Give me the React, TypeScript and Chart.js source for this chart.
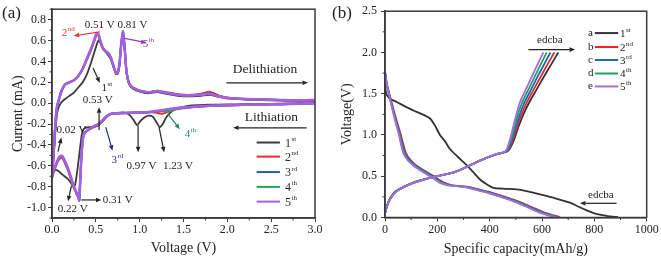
import React, { useEffect, useRef } from 'react';
import { Chart, registerables } from 'chart.js';
Chart.register(...registerables);

const FONT = "'Liberation Serif', 'Times New Roman', serif";

// ---------------- Panel (a): CV curves ----------------
const cvVoltageCathodic = [3.0, 2.8, 2.6, 2.4, 2.2, 2.0, 1.8, 1.6, 1.5, 1.4, 1.35, 1.3, 1.27, 1.23, 1.19, 1.15, 1.1, 1.05, 1.01, 0.97, 0.93, 0.88, 0.83, 0.78, 0.73, 0.68, 0.63, 0.58, 0.53, 0.48, 0.43, 0.39, 0.36, 0.34, 0.33, 0.32, 0.31, 0.30, 0.28, 0.26, 0.24, 0.22, 0.2, 0.18, 0.15, 0.12, 0.1, 0.08, 0.05, 0.03, 0.01, 0.0];
const cvVoltageAnodic = [0.01, 0.02, 0.03, 0.04, 0.05, 0.06, 0.08, 0.1, 0.12, 0.15, 0.2, 0.25, 0.3, 0.35, 0.4, 0.45, 0.48, 0.51, 0.53, 0.55, 0.58, 0.61, 0.64, 0.67, 0.7, 0.73, 0.75, 0.77, 0.79, 0.81, 0.83, 0.85, 0.88, 0.92, 1.0, 1.1, 1.2, 1.3, 1.4, 1.5, 1.6, 1.7, 1.8, 1.9, 2.0, 2.2, 2.4, 2.6, 2.8, 3.0];

const cycle1Cathodic = [0.01, 0.0, -0.005, -0.008, -0.01, -0.012, -0.015, -0.022, -0.035, -0.06, -0.09, -0.14, -0.19, -0.23, -0.18, -0.13, -0.12, -0.14, -0.17, -0.21, -0.16, -0.11, -0.09, -0.09, -0.095, -0.1, -0.12, -0.17, -0.21, -0.225, -0.23, -0.235, -0.25, -0.3, -0.36, -0.43, -0.5, -0.57, -0.7, -0.79, -0.8, -0.77, -0.745, -0.725, -0.705, -0.685, -0.67, -0.655, -0.64, -0.645, -0.665, -0.68];
const cycle1Anodic = [-0.6, -0.5, -0.38, -0.26, -0.16, -0.09, -0.03, 0.0, 0.02, 0.04, 0.07, 0.1, 0.15, 0.2, 0.28, 0.4, 0.48, 0.56, 0.6, 0.58, 0.52, 0.49, 0.46, 0.42, 0.35, 0.28, 0.28, 0.37, 0.55, 0.65, 0.5, 0.29, 0.18, 0.14, 0.11, 0.095, 0.105, 0.09, 0.075, 0.065, 0.065, 0.07, 0.08, 0.06, 0.045, 0.035, 0.03, 0.025, 0.02, 0.025];

const cycle2Cathodic = [0.0, -0.005, -0.01, -0.013, -0.016, -0.022, -0.028, -0.04, -0.048, -0.06, -0.075, -0.09, -0.1, -0.1, -0.092, -0.086, -0.088, -0.09, -0.092, -0.092, -0.092, -0.094, -0.096, -0.097, -0.099, -0.102, -0.125, -0.17, -0.21, -0.23, -0.25, -0.275, -0.31, -0.46, -0.6, -0.77, -0.92, -0.9, -0.87, -0.83, -0.79, -0.74, -0.69, -0.64, -0.58, -0.53, -0.525, -0.54, -0.59, -0.64, -0.69, -0.72];
const cycle2Anodic = [-0.6, -0.47, -0.32, -0.19, -0.09, -0.03, 0.035, 0.09, 0.135, 0.175, 0.2, 0.22, 0.26, 0.33, 0.42, 0.52, 0.59, 0.655, 0.65, 0.59, 0.525, 0.495, 0.475, 0.435, 0.355, 0.285, 0.285, 0.375, 0.56, 0.67, 0.51, 0.3, 0.19, 0.15, 0.12, 0.105, 0.12, 0.105, 0.09, 0.08, 0.08, 0.09, 0.11, 0.075, 0.055, 0.04, 0.035, 0.03, 0.025, 0.03];

const cycle3Cathodic = [0.0, -0.005, -0.01, -0.012, -0.015, -0.021, -0.026, -0.036, -0.042, -0.052, -0.058, -0.065, -0.07, -0.075, -0.078, -0.082, -0.086, -0.089, -0.09, -0.09, -0.091, -0.093, -0.095, -0.096, -0.098, -0.101, -0.122, -0.165, -0.205, -0.225, -0.248, -0.272, -0.305, -0.45, -0.6, -0.78, -0.93, -0.9, -0.86, -0.82, -0.78, -0.725, -0.675, -0.625, -0.565, -0.515, -0.51, -0.525, -0.58, -0.625, -0.675, -0.71];
const cycle3Anodic = [-0.59, -0.46, -0.31, -0.185, -0.085, -0.025, 0.038, 0.095, 0.138, 0.178, 0.2, 0.22, 0.26, 0.33, 0.43, 0.53, 0.6, 0.665, 0.655, 0.6, 0.53, 0.5, 0.48, 0.44, 0.36, 0.29, 0.29, 0.38, 0.57, 0.68, 0.52, 0.3, 0.19, 0.15, 0.12, 0.105, 0.115, 0.1, 0.085, 0.075, 0.075, 0.082, 0.095, 0.068, 0.05, 0.04, 0.035, 0.03, 0.025, 0.03];

const cycle4Cathodic = [0.0, -0.005, -0.01, -0.012, -0.015, -0.02, -0.026, -0.036, -0.045, -0.06, -0.075, -0.08, -0.078, -0.078, -0.08, -0.082, -0.086, -0.089, -0.09, -0.09, -0.09, -0.092, -0.094, -0.095, -0.097, -0.1, -0.12, -0.16, -0.2, -0.22, -0.245, -0.27, -0.3, -0.45, -0.6, -0.78, -0.935, -0.9, -0.86, -0.82, -0.78, -0.72, -0.67, -0.62, -0.56, -0.51, -0.505, -0.52, -0.575, -0.62, -0.67, -0.70];
const cycle4Anodic = [-0.58, -0.45, -0.3, -0.18, -0.08, -0.02, 0.04, 0.1, 0.14, 0.18, 0.2, 0.22, 0.26, 0.33, 0.43, 0.53, 0.6, 0.67, 0.66, 0.6, 0.53, 0.5, 0.48, 0.44, 0.36, 0.29, 0.29, 0.38, 0.57, 0.69, 0.52, 0.3, 0.19, 0.15, 0.12, 0.105, 0.115, 0.1, 0.085, 0.075, 0.075, 0.08, 0.09, 0.065, 0.05, 0.04, 0.035, 0.03, 0.025, 0.03];

const cycle5Cathodic = [0.0, -0.005, -0.01, -0.012, -0.015, -0.02, -0.025, -0.035, -0.04, -0.05, -0.055, -0.06, -0.065, -0.07, -0.075, -0.08, -0.085, -0.088, -0.09, -0.09, -0.09, -0.092, -0.094, -0.095, -0.097, -0.1, -0.12, -0.16, -0.2, -0.22, -0.245, -0.27, -0.3, -0.45, -0.6, -0.78, -0.93, -0.9, -0.86, -0.82, -0.78, -0.72, -0.67, -0.62, -0.56, -0.51, -0.505, -0.52, -0.575, -0.62, -0.67, -0.70];
const cycle5Anodic = [-0.58, -0.45, -0.3, -0.18, -0.08, -0.02, 0.04, 0.1, 0.14, 0.18, 0.2, 0.22, 0.26, 0.33, 0.43, 0.53, 0.6, 0.67, 0.66, 0.6, 0.53, 0.5, 0.48, 0.44, 0.36, 0.29, 0.29, 0.38, 0.57, 0.68, 0.52, 0.3, 0.19, 0.15, 0.12, 0.105, 0.115, 0.1, 0.085, 0.075, 0.075, 0.08, 0.09, 0.065, 0.05, 0.04, 0.035, 0.03, 0.025, 0.03];

const cycleBase = ['1', '2', '3', '4', '5'];
const cycleSup = ['st', 'nd', 'rd', 'th', 'th'];
const cvColors = ['#3a3a3a', '#f42a2a', '#1f5fae', '#1ea45c', '#a65fe2'];
const cvWidths = [1.8, 2, 2, 2, 2.6];

const voltageTicksA = [0, 0.5, 1.0, 1.5, 2.0, 2.5, 3.0];
const currentTicks = [-1.0, -0.8, -0.6, -0.4, -0.2, 0.0, 0.2, 0.4, 0.6, 0.8];

// ---------------- Panel (b): charge / discharge ----------------
const dis1Cap = [0, 5, 15, 30, 45, 80, 121, 150, 172, 190, 210, 230, 248, 280, 312, 340, 363, 390, 414, 450, 503, 540, 580, 643, 707, 740, 771, 800, 834, 860, 891];
const dis1Volt = [1.6, 1.5, 1.45, 1.42, 1.40, 1.34, 1.28, 1.24, 1.2, 1.12, 1.0, 0.92, 0.83, 0.73, 0.635, 0.54, 0.46, 0.4, 0.36, 0.35, 0.34, 0.32, 0.29, 0.24, 0.18, 0.13, 0.086, 0.05, 0.027, 0.012, 0.005];
const disVolt = [1.77, 1.62, 1.52, 1.34, 1.18, 1.03, 0.9, 0.78, 0.7, 0.63, 0.56, 0.5, 0.45, 0.42, 0.39, 0.38, 0.37, 0.34, 0.29, 0.24, 0.18, 0.115, 0.06, 0.03, 0.01, 0.0];
const dis2Cap = [0, 7, 15, 30, 44, 58, 69, 80, 97, 120, 155, 187, 210, 228, 258, 288, 318, 358, 419, 468, 521, 569, 610, 640, 662, 669];
const dis3Cap = [0, 7, 14, 28, 42, 55, 66, 76, 93, 116, 150, 182, 205, 222, 252, 282, 312, 352, 413, 462, 515, 562, 603, 633, 656, 665];
const dis4Cap = [0, 6, 13, 27, 40, 53, 63, 73, 89, 112, 145, 177, 200, 216, 246, 276, 306, 346, 407, 456, 509, 556, 597, 627, 651, 661];
const dis5Cap = [0, 6, 13, 26, 38, 51, 60, 70, 85, 108, 140, 172, 195, 210, 240, 270, 300, 340, 401, 450, 503, 550, 590, 620, 645, 656];

const chgVolt = [0.05, 0.12, 0.22, 0.32, 0.42, 0.48, 0.56, 0.69, 0.77, 0.8, 0.85, 0.95, 1.1, 1.25, 1.4, 1.55, 1.7, 1.85, 2.0];
const chg1Cap = [0, 5, 17, 42, 105, 170, 272, 362, 430, 467, 480, 494, 510, 529, 552, 579, 606, 634, 662];
const chg2Cap = [0, 6, 19, 45, 108, 172, 274, 363, 430, 465, 477, 490, 505, 522, 543, 568, 594, 620, 647];
const chg3Cap = [0, 6, 19, 45, 108, 172, 274, 363, 429, 463, 474, 486, 500, 515, 534, 558, 582, 607, 632];
const chg4Cap = [0, 6, 19, 45, 108, 172, 274, 363, 428, 461, 471, 482, 495, 508, 525, 548, 571, 594, 618];
const chg5Cap = [0, 6, 19, 45, 108, 172, 274, 363, 427, 459, 468, 478, 490, 502, 516, 538, 560, 582, 605];

const curveLetters = ['a', 'b', 'c', 'd', 'e'];
const gcdColors = ['#333333', '#ee2424', '#1a66c4', '#22a35c', '#a46ce0'];

const capacityTicks = [0, 200, 400, 600, 800, 1000];
const voltageTicksB = [0, 0.5, 1.0, 1.5, 2.0, 2.5];

// ---------------- helpers ----------------
function zip(xs: number[], ys: number[]) {
  return xs.map((x, i) => ({ x, y: ys[i] }));
}

function fmt1(v: number) {
  const n = Math.abs(v) < 1e-9 ? 0 : v;
  return n.toFixed(1);
}

function drawArrow(ctx: CanvasRenderingContext2D, x1: number, y1: number, x2: number, y2: number, color: string, lw = 1.2, head = 5.5) {
  ctx.save();
  ctx.strokeStyle = color;
  ctx.fillStyle = color;
  ctx.lineWidth = lw;
  const ang = Math.atan2(y2 - y1, x2 - x1);
  const bx = x2 - head * Math.cos(ang);
  const by = y2 - head * Math.sin(ang);
  ctx.beginPath();
  ctx.moveTo(x1, y1);
  ctx.lineTo(bx, by);
  ctx.stroke();
  const hw = head * 0.42;
  ctx.beginPath();
  ctx.moveTo(x2, y2);
  ctx.lineTo(bx + hw * Math.sin(ang), by - hw * Math.cos(ang));
  ctx.lineTo(bx - hw * Math.sin(ang), by + hw * Math.cos(ang));
  ctx.closePath();
  ctx.fill();
  ctx.restore();
}

function drawLabel(ctx: CanvasRenderingContext2D, x: number, y: number, text: string, sup: string | undefined, color: string, size: number) {
  ctx.save();
  ctx.fillStyle = color;
  ctx.textBaseline = 'middle';
  ctx.textAlign = 'left';
  ctx.font = `${size}px ${FONT}`;
  ctx.fillText(text, x, y);
  if (sup) {
    const w = ctx.measureText(text).width;
    ctx.font = `${Math.round(size * 0.62)}px ${FONT}`;
    ctx.fillText(sup, x + w + 0.5, y - size * 0.36);
  }
  ctx.restore();
}

type Txt = { text: string; sup?: string; x: number; y: number; color: string; size: number };
type Arr = { x1: number; y1: number; x2: number; y2: number; color: string };

const textsA: Txt[] = [
  { text: '0.51 V 0.81 V', x: 0.373, y: 0.752, color: '#222', size: 11 },
  { text: '2', sup: 'nd', x: 0.11, y: 0.67, color: '#f03030', size: 11 },
  { text: '5', sup: 'th', x: 1.035, y: 0.565, color: '#8c3cb0', size: 11 },
  { text: '1', sup: 'st', x: 0.565, y: 0.14, color: '#222', size: 11 },
  { text: '0.53 V', x: 0.35, y: 0.025, color: '#222', size: 11 },
  { text: 'Delithiation', x: 2.063, y: 0.32, color: '#222', size: 13.5 },
  { text: 'Lithiation', x: 2.2, y: -0.135, color: '#222', size: 13.5 },
  { text: '0.02 V', x: 0.05, y: -0.26, color: '#222', size: 11 },
  { text: '0.22 V', x: 0.065, y: -1.015, color: '#222', size: 11 },
  { text: '0.31 V', x: 0.579, y: -0.927, color: '#222', size: 11 },
  { text: '3', sup: 'rd', x: 0.678, y: -0.55, color: '#2a2a8c', size: 11 },
  { text: '0.97 V', x: 0.849, y: -0.6, color: '#222', size: 11 },
  { text: '1.23 V', x: 1.267, y: -0.6, color: '#222', size: 11 },
  { text: '4', sup: 'th', x: 1.515, y: -0.3, color: '#1a8a70', size: 11 },
];

const arrowsA: Arr[] = [
  { x1: 0.545, y1: 0.683, x2: 0.248, y2: 0.645, color: '#f03030' },
  { x1: 0.83, y1: 0.62, x2: 1.078, y2: 0.579, color: '#8c3cb0' },
  { x1: 0.468, y1: 0.337, x2: 0.545, y2: 0.195, color: '#222' },
  { x1: 0.537, y1: -0.258, x2: 0.537, y2: -0.04, color: '#222' },
  { x1: 1.99, y1: 0.195, x2: 2.92, y2: 0.195, color: '#222' },
  { x1: 2.904, y1: -0.236, x2: 2.066, y2: -0.236, color: '#222' },
  { x1: 0.068, y1: -0.465, x2: 0.107, y2: -0.33, color: '#222' },
  { x1: 0.221, y1: -0.795, x2: 0.183, y2: -0.94, color: '#222' },
  { x1: 0.336, y1: -0.927, x2: 0.564, y2: -0.927, color: '#222' },
  { x1: 0.613, y1: -0.229, x2: 0.69, y2: -0.455, color: '#2a2a8c' },
  { x1: 0.982, y1: -0.213, x2: 0.982, y2: -0.47, color: '#222' },
  { x1: 1.221, y1: -0.229, x2: 1.279, y2: -0.47, color: '#222' },
  { x1: 1.324, y1: -0.104, x2: 1.458, y2: -0.25, color: '#1a8a70' },
];

const legendRowsA = [-0.377, -0.512, -0.66, -0.802, -0.943];
const legendRowsB = [2.235, 2.066, 1.909, 1.745, 1.588];

const textsB: Txt[] = [
  { text: 'edcba', x: 581, y: 2.145, color: '#222', size: 11 },
  { text: 'edcba', x: 776, y: 0.27, color: '#222', size: 11 },
];
const arrowsB: Arr[] = [
  { x1: 548, y1: 2.035, x2: 726, y2: 2.035, color: '#222' },
  { x1: 885, y1: 0.172, x2: 745, y2: 0.172, color: '#222' },
];

function framePlugin(panelLabel: string, extra: (chart: any) => void) {
  return {
    id: 'frameAndNotes',
    afterDraw(chart: any) {
      const ctx: CanvasRenderingContext2D = chart.ctx;
      const ca = chart.chartArea;
      const xs = chart.scales.x;
      const ys = chart.scales.y;
      ctx.save();
      ctx.strokeStyle = '#3a3a3a';
      ctx.lineWidth = 1.5;
      ctx.strokeRect(ca.left, ca.top, ca.right - ca.left, ca.bottom - ca.top);
      // minor ticks
      ctx.lineWidth = 1;
      const xt = xs.ticks.map((t: any) => t.value);
      const xStep = xt[1] - xt[0];
      for (let v = xt[0] - xStep / 2; v <= xs.max + 1e-9; v += xStep) {
        if (v < xs.min - 1e-9) continue;
        const p = xs.getPixelForValue(v);
        ctx.beginPath();
        ctx.moveTo(p, ca.bottom);
        ctx.lineTo(p, ca.bottom + 2.5);
        ctx.stroke();
      }
      const yt = ys.ticks.map((t: any) => t.value);
      const yStep = yt[1] - yt[0];
      for (let v = yt[0] - yStep / 2; v <= ys.max + 1e-9; v += yStep) {
        if (v < ys.min - 1e-9) continue;
        const p = ys.getPixelForValue(v);
        ctx.beginPath();
        ctx.moveTo(ca.left, p);
        ctx.lineTo(ca.left - 2.5, p);
        ctx.stroke();
      }
      ctx.restore();
      drawLabel(ctx, 2, 13.5, panelLabel, undefined, '#222', 17);
      extra(chart);
    },
  };
}

function axisCommon() {
  return {
    grid: { display: true, drawOnChartArea: false, drawTicks: true, tickLength: 4, color: '#3a3a3a', lineWidth: 1 },
    border: { display: true, color: '#3a3a3a', width: 1.5 },
  };
}

export default function App() {
  const refA = useRef<HTMLCanvasElement>(null);
  const refB = useRef<HTMLCanvasElement>(null);

  useEffect(() => {
    const cathodic = [cycle1Cathodic, cycle2Cathodic, cycle3Cathodic, cycle4Cathodic, cycle5Cathodic];
    const anodic = [cycle1Anodic, cycle2Anodic, cycle3Anodic, cycle4Anodic, cycle5Anodic];
    const cvDatasets = cathodic.map((c, i) => ({
      label: cycleBase[i] + cycleSup[i],
      data: zip(cvVoltageCathodic, c).concat(zip(cvVoltageAnodic, anodic[i])),
      borderColor: cvColors[i],
      borderWidth: cvWidths[i],
      pointRadius: 0,
      tension: 0.2,
      fill: false,
      order: 10 - i,
    }));

    const chartA = new Chart(refA.current as HTMLCanvasElement, {
      type: 'line',
      data: { datasets: cvDatasets as any },
      options: {
        responsive: false,
        animation: false,
        layout: { padding: { left: 0, right: 15, top: 5, bottom: 0 } },
        plugins: { legend: { display: false }, tooltip: { enabled: false } },
        scales: {
          x: {
            type: 'linear',
            min: 0,
            max: 3,
            afterBuildTicks: (s: any) => { s.ticks = voltageTicksA.map((v) => ({ value: v })); },
            afterFit: (s: any) => { s.height = 42; },
            ...axisCommon(),
            ticks: { autoSkip: false, maxRotation: 0, padding: 1, color: '#222', font: { family: FONT, size: 12 }, callback: (v: any) => fmt1(Number(v)) },
            title: { display: true, text: 'Voltage (V)', color: '#222', font: { family: FONT, size: 14 }, padding: { top: 0, bottom: 3 } },
          },
          y: {
            type: 'linear',
            min: -1.1,
            max: 0.9,
            afterBuildTicks: (s: any) => { s.ticks = currentTicks.map((v) => ({ value: v })); },
            afterFit: (s: any) => { s.width = 52; },
            ...axisCommon(),
            ticks: { autoSkip: false, padding: 2, color: '#222', font: { family: FONT, size: 12 }, callback: (v: any) => fmt1(Number(v)) },
            title: { display: true, text: 'Current (mA)', color: '#222', font: { family: FONT, size: 14 }, padding: { top: 10, bottom: 0 } },
          },
        },
      } as any,
      plugins: [
        framePlugin('(a)', (chart: any) => {
          const ctx: CanvasRenderingContext2D = chart.ctx;
          const xs = chart.scales.x;
          const ys = chart.scales.y;
          arrowsA.forEach((a) => drawArrow(ctx, xs.getPixelForValue(a.x1), ys.getPixelForValue(a.y1), xs.getPixelForValue(a.x2), ys.getPixelForValue(a.y2), a.color));
          textsA.forEach((t) => drawLabel(ctx, xs.getPixelForValue(t.x), ys.getPixelForValue(t.y), t.text, t.sup, t.color, t.size));
          legendRowsA.forEach((ry, i) => {
            const py = ys.getPixelForValue(ry);
            ctx.save();
            ctx.strokeStyle = cvColors[i];
            ctx.lineWidth = 2;
            ctx.beginPath();
            ctx.moveTo(xs.getPixelForValue(2.334), py);
            ctx.lineTo(xs.getPixelForValue(2.6), py);
            ctx.stroke();
            ctx.restore();
            drawLabel(ctx, xs.getPixelForValue(2.657), py + 1, cycleBase[i], cycleSup[i], '#2a2a3a', 12);
          });
        }),
      ],
    });

    const disCaps = [dis1Cap, dis2Cap, dis3Cap, dis4Cap, dis5Cap];
    const disVolts = [dis1Volt, disVolt, disVolt, disVolt, disVolt];
    const chgCaps = [chg1Cap, chg2Cap, chg3Cap, chg4Cap, chg5Cap];
    const gcdDatasets: any[] = [];
    for (let i = 0; i < 5; i++) {
      gcdDatasets.push({
        label: curveLetters[i] + ' discharge',
        data: zip(disCaps[i], disVolts[i]),
        borderColor: gcdColors[i],
        borderWidth: 1.8,
        pointRadius: 0,
        tension: 0.3,
        fill: false,
        order: 10 - i,
      });
      gcdDatasets.push({
        label: curveLetters[i] + ' charge',
        data: zip(chgCaps[i], chgVolt),
        borderColor: gcdColors[i],
        borderWidth: 1.8,
        pointRadius: 0,
        tension: 0.3,
        fill: false,
        order: 10 - i,
      });
    }

    const chartB = new Chart(refB.current as HTMLCanvasElement, {
      type: 'line',
      data: { datasets: gcdDatasets },
      options: {
        responsive: false,
        animation: false,
        layout: { padding: { left: 0, right: 14.3, top: 5, bottom: 0 } },
        plugins: { legend: { display: false }, tooltip: { enabled: false } },
        scales: {
          x: {
            type: 'linear',
            min: 0,
            max: 1000,
            afterBuildTicks: (s: any) => { s.ticks = capacityTicks.map((v) => ({ value: v })); },
            afterFit: (s: any) => { s.height = 42.5; },
            ...axisCommon(),
            ticks: { autoSkip: false, maxRotation: 0, padding: 1, color: '#222', font: { family: FONT, size: 12 }, callback: (v: any) => String(Math.round(Number(v))) },
            title: { display: true, text: 'Specific capacity(mAh/g)', color: '#222', font: { family: FONT, size: 14 }, padding: { top: 0, bottom: 2 } },
          },
          y: {
            type: 'linear',
            min: 0,
            max: 2.5,
            afterBuildTicks: (s: any) => { s.ticks = voltageTicksB.map((v) => ({ value: v })); },
            afterFit: (s: any) => { s.width = 55; },
            ...axisCommon(),
            ticks: { autoSkip: false, padding: 4, color: '#222', font: { family: FONT, size: 12 }, callback: (v: any) => fmt1(Number(v)) },
            title: { display: true, text: 'Voltage(V)', color: '#222', font: { family: FONT, size: 14 }, padding: { top: 9, bottom: 0 } },
          },
        },
      } as any,
      plugins: [
        framePlugin('(b)', (chart: any) => {
          const ctx: CanvasRenderingContext2D = chart.ctx;
          const xs = chart.scales.x;
          const ys = chart.scales.y;
          arrowsB.forEach((a) => drawArrow(ctx, xs.getPixelForValue(a.x1), ys.getPixelForValue(a.y1), xs.getPixelForValue(a.x2), ys.getPixelForValue(a.y2), a.color));
          textsB.forEach((t) => drawLabel(ctx, xs.getPixelForValue(t.x), ys.getPixelForValue(t.y), t.text, t.sup, t.color, t.size));
          legendRowsB.forEach((ry, i) => {
            const py = ys.getPixelForValue(ry);
            drawLabel(ctx, xs.getPixelForValue(776), py, curveLetters[i], undefined, '#222', 11);
            ctx.save();
            ctx.strokeStyle = gcdColors[i];
            ctx.lineWidth = 2;
            ctx.beginPath();
            ctx.moveTo(xs.getPixelForValue(802), py);
            ctx.lineTo(xs.getPixelForValue(891), py);
            ctx.stroke();
            ctx.restore();
            drawLabel(ctx, xs.getPixelForValue(898), py + 1, cycleBase[i], cycleSup[i], '#222', 11);
          });
        }),
      ],
    });

    return () => {
      chartA.destroy();
      chartB.destroy();
    };
  }, []);

  return (
    <div style={{ position: 'absolute', left: 0, top: 0, width: 661, height: 260, background: '#ffffff' }}>
      <canvas ref={refA} width={330} height={260} style={{ position: 'absolute', left: 0, top: 0 }} />
      <canvas ref={refB} width={331} height={260} style={{ position: 'absolute', left: 330, top: 0 }} />
    </div>
  );
}
